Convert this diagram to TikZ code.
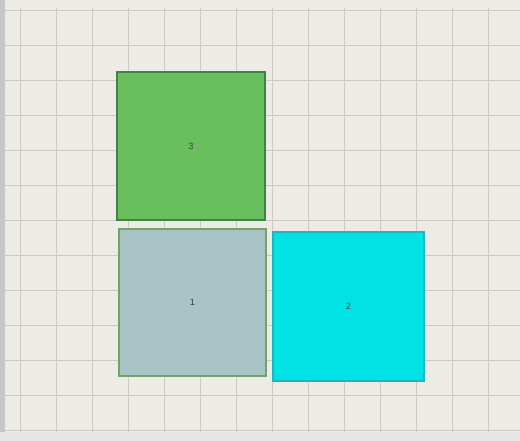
\documentclass[tikz,border=0pt]{standalone}
\usepackage{fontspec}
\setsansfont{Liberation Sans}
\usetikzlibrary{calc}

\definecolor{screenbg}{HTML}{ECEBE6}
\definecolor{gridline}{HTML}{CCCAC4}
\definecolor{greenfill}{HTML}{69BE5E}
\definecolor{greenedge}{HTML}{3F8446}
\definecolor{greyfill}{HTML}{A8C3C5}
\definecolor{greyedge}{HTML}{74A464}
\definecolor{cyanfill}{HTML}{00E2E3}
\definecolor{cyanedge}{HTML}{1FB3C4}

\begin{document}
\begin{tikzpicture}[
      x=0.5mm, y=-0.5mm,
      tile/.style={rectangle, draw, line width=0.9mm, inner sep=0,
        font=\sffamily\fontsize{13}{15}\selectfont, text=black!75},
      ]

      \useasboundingbox (0,0) rectangle (520,441);
      \fill[screenbg] (0,0) rectangle (520,441);
      % dark frame of the photo
      \fill[black!22] (0,0) rectangle (5,441);
      \fill[black!10] (0,432) rectangle (520,441);

      % the grid
      \foreach \gx in {20,56,...,520}
        \draw[gridline, line width=0.45mm] (\gx,8) -- (\gx,432);
      \foreach \gy in {10,45,...,432}
        \draw[gridline, line width=0.45mm] (5,\gy) -- (520,\gy);

      \node[tile, fill=greenfill, draw=greenedge, minimum width=74mm, minimum height=74mm] (sq3) at (191,146) {3};
      \node[tile, fill=greyfill, draw=greyedge, minimum width=73.5mm, minimum height=73.5mm] (sq1) at (192.5,302.5) {1};
      \node[tile, fill=cyanfill, draw=cyanedge, minimum width=75.5mm, minimum height=74.5mm] (sq2) at (348.5,306.5) {2};

    \end{tikzpicture}
\end{document}
